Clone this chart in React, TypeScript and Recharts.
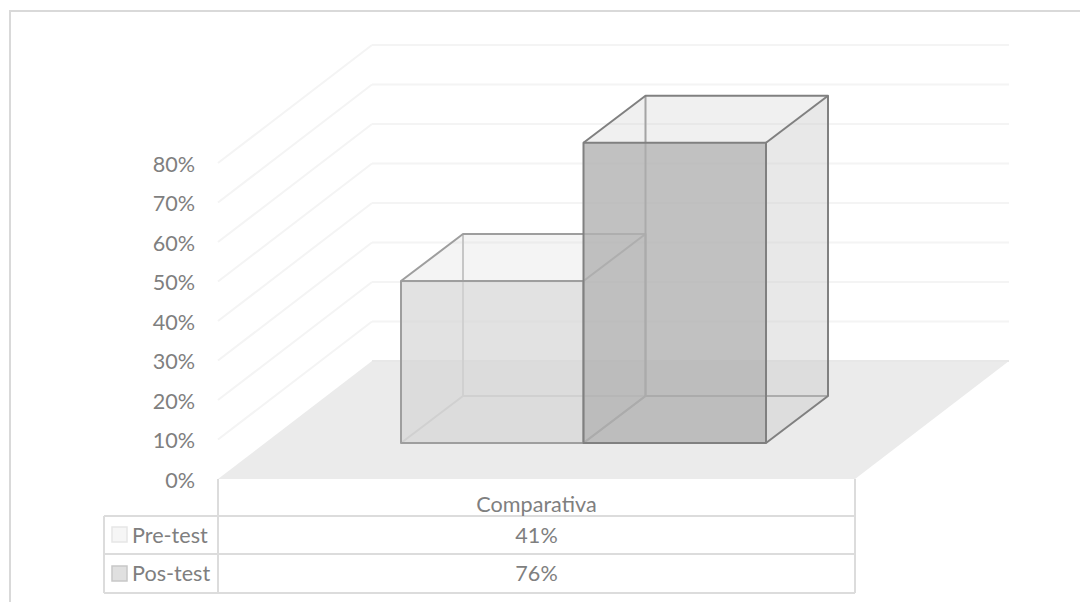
import React from 'react';
import { BarChart, Bar, XAxis, YAxis, CartesianGrid } from 'recharts';

const categories = ['Comparativa'];
const preTest = [41];
const posTest = [76];
const yTicks = [0, 10, 20, 30, 40, 50, 60, 70, 80];

const rows = categories.map((name, i) => ({ name, pre: preTest[i], pos: posTest[i] }));

const FONT = 'Lato, sans-serif';
const TEXT = '#7f7f7f';
const TABLE_LINE = '#dcdcdc';

// 3D projection: how far the floor runs back, where the bars stand on it, and bar depth
const FLOOR_DX = 154;
const FLOOR_DY = -118;
const STAND_DX = 47;
const STAND_DY = -36;
const DEPTH_DX = 62;
const DEPTH_DY = -47;
const PLOT_W = 637;

// walls and floor, hung on the y axis gridlines
function wallLine(p: any) {
  const bx = p.x1 + FLOOR_DX;
  const by = p.y1 + FLOOR_DY;
  const line = '#f4f4f4';
  return (
    <g key={p.key}>
      {p.index === 0 && (
        <polygon
          points={`${p.x1},${p.y1} ${p.x1 + PLOT_W},${p.y1} ${bx + PLOT_W},${by} ${bx},${by}`}
          fill="#ebebeb"
        />
      )}
      {p.index !== 0 && <line x1={p.x1} y1={p.y1} x2={bx} y2={by} stroke={line} strokeWidth={2} />}
      <line x1={bx} y1={by} x2={bx + PLOT_W} y2={by} stroke={p.index === 0 ? '#e8e8e8' : line} strokeWidth={2} />
    </g>
  );
}

function box(look: any) {
  return (p: any) => {
    const x = p.x + STAND_DX;
    const y = p.y + STAND_DY;
    const r = x + p.width;
    const b = y + p.height;
    const bx = x + DEPTH_DX;
    const bR = r + DEPTH_DX;
    const by = y + DEPTH_DY;
    const bB = b + DEPTH_DY;
    return (
      <g strokeLinejoin="round">
        {/* hidden edges */}
        <g fill="none" stroke={look.inner} strokeWidth={2}>
          <line x1={bx} y1={by} x2={bx} y2={bB} />
          <line x1={bx} y1={bB} x2={bR} y2={bB} />
          <line x1={x} y1={b} x2={bx} y2={bB} />
        </g>
        <polygon points={`${r},${y} ${bR},${by} ${bR},${bB} ${r},${b}`} fill={look.side} fillOpacity={look.sideAlpha} />
        <polygon points={`${x},${y} ${bx},${by} ${bR},${by} ${r},${y}`} fill={look.side} fillOpacity={look.topAlpha} />
        <rect x={x} y={y} width={p.width} height={p.height} fill={look.front} fillOpacity={look.frontAlpha} />
        <g fill="none" stroke={look.edge} strokeWidth={2}>
          <rect x={x} y={y} width={p.width} height={p.height} />
          <polyline points={`${x},${y} ${bx},${by} ${bR},${by} ${bR},${bB} ${r},${b}`} />
          <line x1={r} y1={y} x2={bR} y2={by} />
        </g>
      </g>
    );
  };
}

const preBox = box({
  front: '#d5d5d5', frontAlpha: 0.7, side: '#d5d5d5', sideAlpha: 0.3, topAlpha: 0.26,
  edge: '#9e9e9e', inner: '#c2c2c2',
});
const posBox = box({
  front: '#b2b2b2', frontAlpha: 0.8, side: '#cccccc', sideAlpha: 0.45, topAlpha: 0.3,
  edge: '#808080', inner: '#929292',
});

// data table drawn below the floor, as the category axis tick
function tableTick({ x, y, payload, index }: any) {
  const left = x - PLOT_W / 2;
  const right = x + PLOT_W / 2;
  const legendX = left - 114;
  const row = rows[index];
  const text = { fontFamily: FONT, fontSize: 21.6, fill: TEXT };
  return (
    <g key={payload.value}>
      <g stroke={TABLE_LINE} strokeWidth={2} fill="none">
        <line x1={left} y1={y} x2={left} y2={y + 114} />
        <line x1={right} y1={y} x2={right} y2={y + 114} />
        <line x1={legendX} y1={y + 37} x2={right} y2={y + 37} />
        <line x1={legendX} y1={y + 75} x2={right} y2={y + 75} />
        <line x1={legendX} y1={y + 114} x2={right} y2={y + 114} />
        <line x1={legendX} y1={y + 37} x2={legendX} y2={y + 114} />
      </g>
      <text x={x} y={y + 33} textAnchor="middle" {...text}>{payload.value}</text>
      <rect x={legendX + 8} y={y + 48} width={15} height={15} fill="#f6f6f6" stroke="#e6e6e6" strokeWidth={1.5} />
      <text x={left - 86} y={y + 64} {...text}>Pre-test</text>
      <text x={x} y={y + 64} textAnchor="middle" {...text}>{row.pre}%</text>
      <rect x={legendX + 8} y={y + 87} width={15} height={15} fill="#e0e0e0" stroke="#c8c8c8" strokeWidth={1.5} />
      <text x={left - 86} y={y + 102} {...text}>Pos-test</text>
      <text x={x} y={y + 102} textAnchor="middle" {...text}>{row.pos}%</text>
    </g>
  );
}

export default function App() {
  return (
    <div style={{ position: 'absolute', left: 0, top: 0, width: 1080, height: 602, overflow: 'hidden', background: '#fff' }}>
      <div
        style={{
          position: 'absolute', left: 9, top: 10, width: 1200, height: 700,
          borderLeft: '2px solid #d9d9d9', borderTop: '2px solid #d9d9d9',
        }}
      />
      <BarChart
        width={1080}
        height={602}
        data={rows}
        margin={{ top: 163, right: 225, bottom: 0, left: 0 }}
        barGap={0}
        barSize={182.5}
        style={{ position: 'absolute', left: 0, top: 0 }}
      >
        <CartesianGrid vertical={false} horizontal={wallLine} />
        <XAxis
          dataKey="name"
          height={123}
          axisLine={false}
          tickLine={false}
          tickSize={0}
          tickMargin={0}
          interval={0}
          tick={tableTick}
        />
        <YAxis
          width={218}
          domain={[0, 80]}
          ticks={yTicks}
          axisLine={false}
          tickLine={false}
          tickSize={0}
          tickMargin={23}
          tickFormatter={(v: number) => `${v}%`}
          tick={{ fontFamily: FONT, fontSize: 21.6, fill: TEXT, dy: 1 }}
        />
        <Bar dataKey="pre" name="Pre-test" shape={preBox} isAnimationActive={false} />
        <Bar dataKey="pos" name="Pos-test" shape={posBox} isAnimationActive={false} />
      </BarChart>
    </div>
  );
}
